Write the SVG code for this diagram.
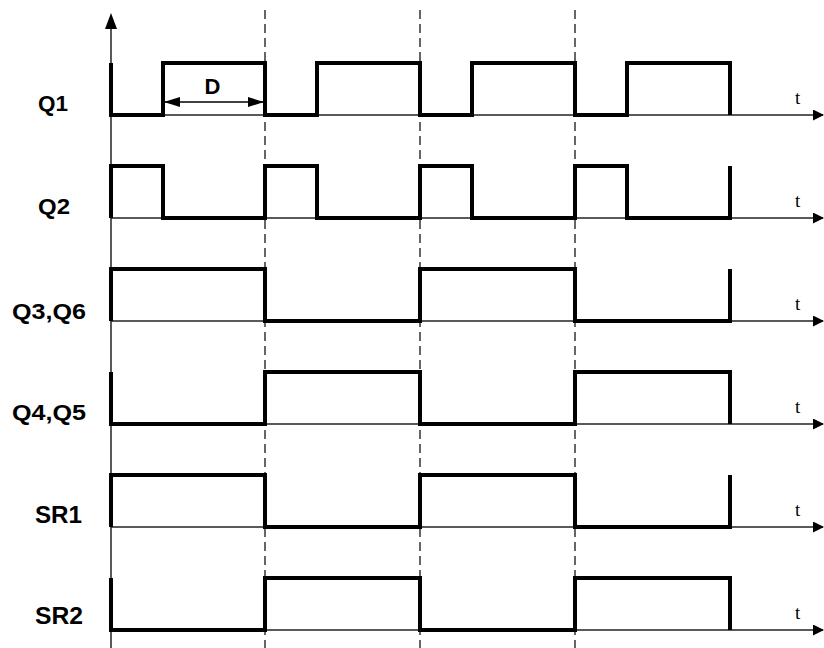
<svg xmlns="http://www.w3.org/2000/svg" width="824" height="648" viewBox="0 0 824 648">
<style>
.ax{stroke:#222;stroke-width:1.5;fill:none}
.dash{stroke:#000;stroke-width:1.2;stroke-dasharray:9,5;fill:none}
.sig{stroke:#000;stroke-width:4;fill:none;stroke-linejoin:miter}
.lbl{font-family:"Liberation Sans",Arial,sans-serif;font-weight:bold;font-size:22px;fill:#000}
.sr{font-size:24px}
.t{font-family:"Liberation Serif","Times New Roman",serif;font-size:19px;fill:#000}
</style>
<defs>
<marker id="ah" markerWidth="11" markerHeight="11" refX="10" refY="5.5" orient="auto" markerUnits="userSpaceOnUse">
<path d="M0,0 L11,5.5 L0,11 Z" fill="#000"/>
</marker>
<marker id="dh" markerWidth="16" markerHeight="10" refX="16" refY="5" orient="auto-start-reverse" markerUnits="userSpaceOnUse">
<path d="M0,0 L16,5 L0,10 Z" fill="#000"/>
</marker>
</defs>
<rect width="824" height="648" fill="#fff"/>
<g id="grid">
<line class="dash" x1="265" y1="10" x2="265" y2="648"/>
<line class="dash" x1="420" y1="10" x2="420" y2="648"/>
<line class="dash" x1="575" y1="10" x2="575" y2="648"/>
</g>
<g id="axes">
<line class="ax" x1="111" y1="648" x2="111" y2="28"/>
<path d="M105,29 L111,13 L117,29 Z" fill="#000"/>
<line class="ax" x1="111" y1="115" x2="823" y2="115" marker-end="url(#ah)"/>
<line class="ax" x1="111" y1="218" x2="823" y2="218" marker-end="url(#ah)"/>
<line class="ax" x1="111" y1="321" x2="823" y2="321" marker-end="url(#ah)"/>
<line class="ax" x1="111" y1="424" x2="823" y2="424" marker-end="url(#ah)"/>
<line class="ax" x1="111" y1="527" x2="823" y2="527" marker-end="url(#ah)"/>
<line class="ax" x1="111" y1="630" x2="823" y2="630" marker-end="url(#ah)"/>
<text class="t" x="795" y="104">t</text>
<text class="t" x="795" y="207">t</text>
<text class="t" x="795" y="310">t</text>
<text class="t" x="795" y="413">t</text>
<text class="t" x="795" y="516">t</text>
<text class="t" x="795" y="619">t</text>
</g>
<g id="Q1">
<text class="lbl" x="38" y="111" textLength="30" lengthAdjust="spacingAndGlyphs">Q1</text>
<path class="sig" d="M111,63 V115 H163 V63 H265 V115 H317 V63 H420 V115 H472 V63 H575 V115 H627 V63 H730 V115"/>
</g>
<g id="D">
<line x1="164" y1="102" x2="264" y2="102" stroke="#000" stroke-width="1.5" marker-start="url(#dh)" marker-end="url(#dh)"/>
<text class="lbl" x="212.5" y="94" text-anchor="middle" font-size="20">D</text>
</g>
<g id="Q2">
<text class="lbl" x="38" y="214" textLength="32" lengthAdjust="spacingAndGlyphs">Q2</text>
<path class="sig" d="M111,218 V166 H163 V218 H265 V166 H317 V218 H420 V166 H472 V218 H575 V166 H627 V218 H730 V166"/>
</g>
<g id="Q3Q6">
<text class="lbl" x="12" y="319" textLength="74" lengthAdjust="spacingAndGlyphs">Q3,Q6</text>
<path class="sig" d="M111,321 V269 H265 V321 H420 V269 H575 V321 H730 V269"/>
</g>
<g id="Q4Q5">
<text class="lbl" x="12" y="420" textLength="74" lengthAdjust="spacingAndGlyphs">Q4,Q5</text>
<path class="sig" d="M111,372 V424 H265 V372 H420 V424 H575 V372 H730 V424"/>
</g>
<g id="SR1">
<text class="lbl sr" x="35" y="523" textLength="47" lengthAdjust="spacingAndGlyphs">SR1</text>
<path class="sig" d="M111,527 V475 H265 V527 H420 V475 H575 V527 H730 V475"/>
</g>
<g id="SR2">
<text class="lbl sr" x="35" y="624" textLength="48" lengthAdjust="spacingAndGlyphs">SR2</text>
<path class="sig" d="M111,578 V630 H265 V578 H420 V630 H575 V578 H730 V630"/>
</g>
</svg>
